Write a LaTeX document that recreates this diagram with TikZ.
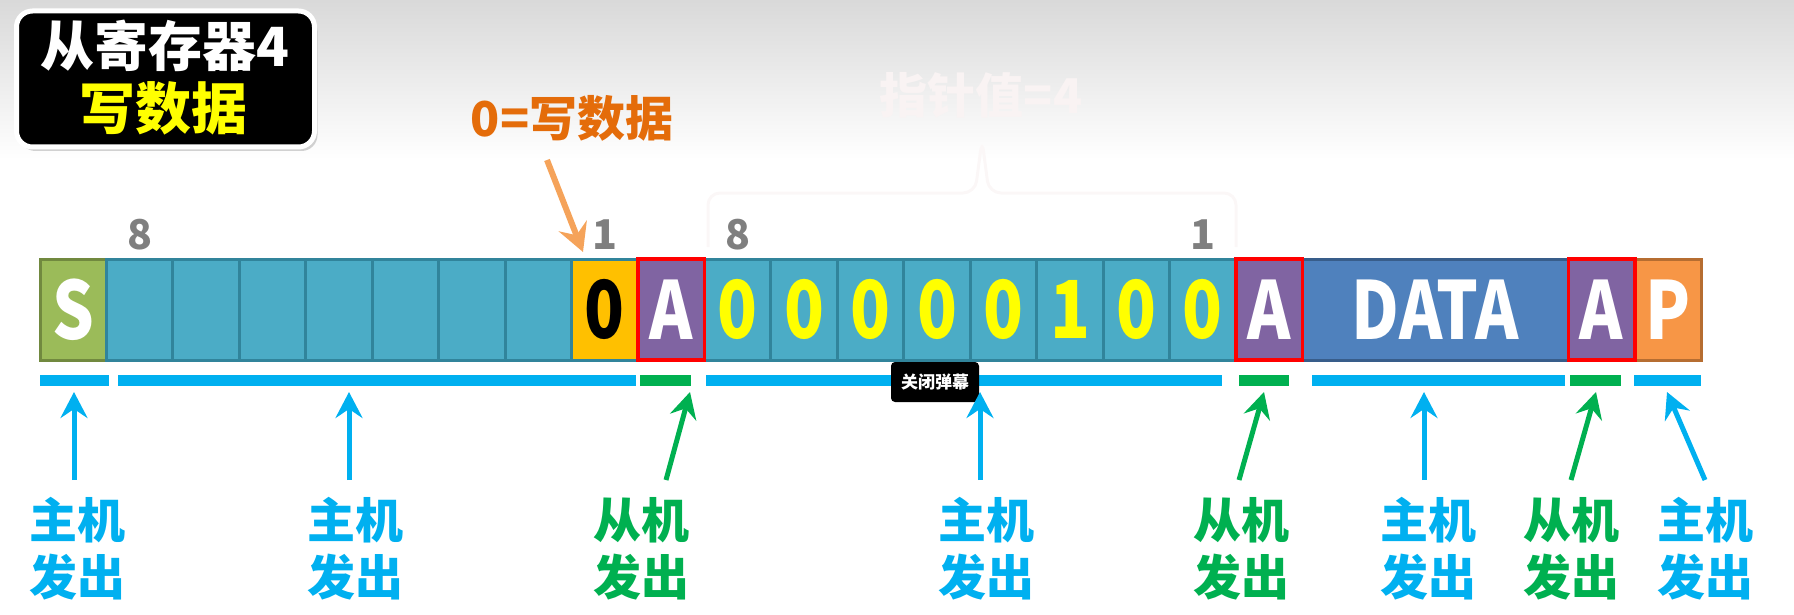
\documentclass[tikz,border=0pt]{standalone}
\usepackage{fontspec}
\setmainfont{Noto Sans CJK SC}
\newfontfamily\cellf{Noto Sans CJK SC}[FakeStretch=0.82]
\usetikzlibrary{arrows.meta,shadows,calc}
\definecolor{bgtop}{HTML}{D9D9D9}
\definecolor{sfill}{HTML}{9BBB59}
\definecolor{sdraw}{HTML}{71893F}
\definecolor{tfill}{HTML}{4BACC6}
\definecolor{tdraw}{HTML}{31849B}
\definecolor{yfill}{HTML}{FFC000}
\definecolor{pfill}{HTML}{8064A2}
\definecolor{dfill}{HTML}{4F81BD}
\definecolor{ddraw}{HTML}{385D8A}
\definecolor{ofill}{HTML}{F79646}
\definecolor{odraw}{HTML}{B66D31}
\definecolor{hblue}{HTML}{00B0F0}
\definecolor{hgreen}{HTML}{00B050}
\definecolor{otext}{HTML}{E46C0A}
\definecolor{oarr}{HTML}{F5A35A}
\definecolor{numgray}{HTML}{7F7F7F}
\definecolor{tyellow}{HTML}{FFFF00}
\definecolor{faint}{HTML}{F9F3F3}
\definecolor{fainter}{HTML}{FBF7F7}
\begin{document}
\begin{tikzpicture}[x=1pt,y=-1pt,
  cell/.style={minimum width=66.45pt, minimum height=101pt, inner sep=0pt, outer sep=0pt,
    line width=3pt, font=\cellf\bfseries\fontsize{80}{80}\selectfont},
  tcell/.style={cell, fill=tfill, draw=tdraw},
  acell/.style={cell, fill=pfill, draw=red, line width=3.5pt, text=white},
  num/.style={font=\bfseries\fontsize{41}{41}\selectfont, text=numgray, inner sep=0pt},
  ubar/.style={minimum height=11pt, inner sep=0pt, outer sep=0pt},
  lab/.style={align=center, inner sep=0pt, font=\bfseries\fontsize{48}{57}\selectfont},
  harrow/.style={line width=5pt, -{Stealth[length=26pt,width=27pt,inset=9pt]}},
]
\useasboundingbox (0,0) rectangle (1794,615);
\shade[top color=bgtop, bottom color=white] (0,0) rectangle (1794,160);

% faint background text and brace
\node[font=\bfseries\fontsize{48}{48}\selectfont, text=faint] (ptr) at (981,95) {指针值=4};
\draw[fainter, line width=3pt, rounded corners=12pt] (708,247) |- (975,193) -- (982,140) -- (989,193) -| (1236,247);

% title
\node[draw=white, line width=5pt, fill=black, rounded corners=16pt, minimum width=298pt,
  minimum height=136pt, drop shadow={shadow xshift=3pt, shadow yshift=-4pt, opacity=0.35}]
  (title) at (165.5,79) {};
\node[font=\bfseries\fontsize{54}{54}\selectfont, text=white, inner sep=0pt] (t1) at (165,46) {从寄存器4};
\node[font=\bfseries\fontsize{56}{56}\selectfont, text=tyellow, inner sep=0pt] (t2) at (163,108) {写数据};

% write annotation
\node[font=\bfseries\fontsize{48}{48}\selectfont, text=otext, inner sep=0pt] (wlab) at (572,118) {0=写数据};
\coordinate (ot) at (547,160);
\coordinate (oh) at (583,252);
\draw[line width=6pt, oarr, -{Stealth[length=28pt,width=30pt,inset=10pt]}] (ot) -- (oh);

% cells
\node[cell, fill=sfill, draw=sdraw, text=white] (s) at ({40+66.45*0.5},309.5) {S};
\foreach \i in {1,...,7}
  \node[tcell] (b\i) at ({40+66.45*(\i+0.5)},309.5) {};
\node[cell, fill=yfill, draw=tdraw, text=black] (rw) at ({40+66.45*8.5},309.5) {0};
\foreach \i/\v [count=\k] in {10/0,11/0,12/0,13/0,14/0,15/1,16/0,17/0}
  \node[tcell, text=tyellow] (d\k) at ({40+66.45*(\i+0.5)},309.5) {\v};
\node[cell, minimum width=265.8pt, fill=dfill, draw=ddraw, text=white] (data) at ({40+66.45*21},309.5) {DATA};
\node[cell, fill=ofill, draw=odraw, text=white] (p) at ({40+66.45*24.5},309.5) {P};
\node[acell] (a1) at ({40+66.45*9.5},309.5) {A};
\node[acell] (a2) at ({40+66.45*18.5},309.5) {A};
\node[acell] (a3) at ({40+66.45*23.5},309.5) {A};

% bit numbers
\node[num] (n1) at ($(b1)+(0,-75)$) {8};
\node[num] (n2) at ($(rw)+(0,-75)$) {1};
\node[num] (n3) at ($(d1)+(0,-75)$) {8};
\node[num] (n4) at ($(d8)+(0,-75)$) {1};

% underline bars
\node[ubar, fill=hblue, minimum width=69pt] (u1) at (74.5,380.5) {};
\node[ubar, fill=hblue, minimum width=518pt] (u2) at (377,380.5) {};
\node[ubar, fill=hgreen, minimum width=51pt] (u3) at (665.5,380.5) {};
\node[ubar, fill=hblue, minimum width=516pt] (u4) at (964,380.5) {};
\node[ubar, fill=hgreen, minimum width=50pt] (u5) at (1264,380.5) {};
\node[ubar, fill=hblue, minimum width=253pt] (u6) at (1438.5,380.5) {};
\node[ubar, fill=hgreen, minimum width=51pt] (u7) at (1595.5,380.5) {};
\node[ubar, fill=hblue, minimum width=67pt] (u8) at (1667.5,380.5) {};

% overlay button
\node[fill=black, text=white, minimum width=88pt, minimum height=40pt, inner sep=0pt,
  rounded corners=4pt, font=\bfseries\fontsize{17}{17}\selectfont] (btn) at (935,382) {关闭弹幕};

% labels
\node[lab, text=hblue] (l1) at (77,549) {主机\\发出};
\node[lab, text=hblue] (l2) at (355,549) {主机\\发出};
\node[lab, text=hgreen] (l3) at (641,549) {从机\\发出};
\node[lab, text=hblue] (l4) at (986,549) {主机\\发出};
\node[lab, text=hgreen] (l5) at (1241,549) {从机\\发出};
\node[lab, text=hblue] (l6) at (1428,549) {主机\\发出};
\node[lab, text=hgreen] (l7) at (1571,549) {从机\\发出};
\node[lab, text=hblue] (l8) at (1705,549) {主机\\发出};

% arrows
\coordinate (t1a) at (74,480);   \coordinate (h1a) at (74,392);
\coordinate (t2a) at (349,480);  \coordinate (h2a) at (349,392);
\coordinate (t3a) at (666,480);  \coordinate (h3a) at (690,392);
\coordinate (t4a) at (980,480);  \coordinate (h4a) at (980,392);
\coordinate (t5a) at (1239,480); \coordinate (h5a) at (1264,392);
\coordinate (t6a) at (1424,480); \coordinate (h6a) at (1424,392);
\coordinate (t7a) at (1571,480); \coordinate (h7a) at (1596,392);
\coordinate (t8a) at (1705,480); \coordinate (h8a) at (1667,392);
\draw[harrow, hblue] (t1a) -- (h1a);
\draw[harrow, hblue] (t2a) -- (h2a);
\draw[harrow, hgreen] (t3a) -- (h3a);
\draw[harrow, hblue] (t4a) -- (h4a);
\draw[harrow, hgreen] (t5a) -- (h5a);
\draw[harrow, hblue] (t6a) -- (h6a);
\draw[harrow, hgreen] (t7a) -- (h7a);
\draw[harrow, hblue] (t8a) -- (h8a);
\end{tikzpicture}
\end{document}
